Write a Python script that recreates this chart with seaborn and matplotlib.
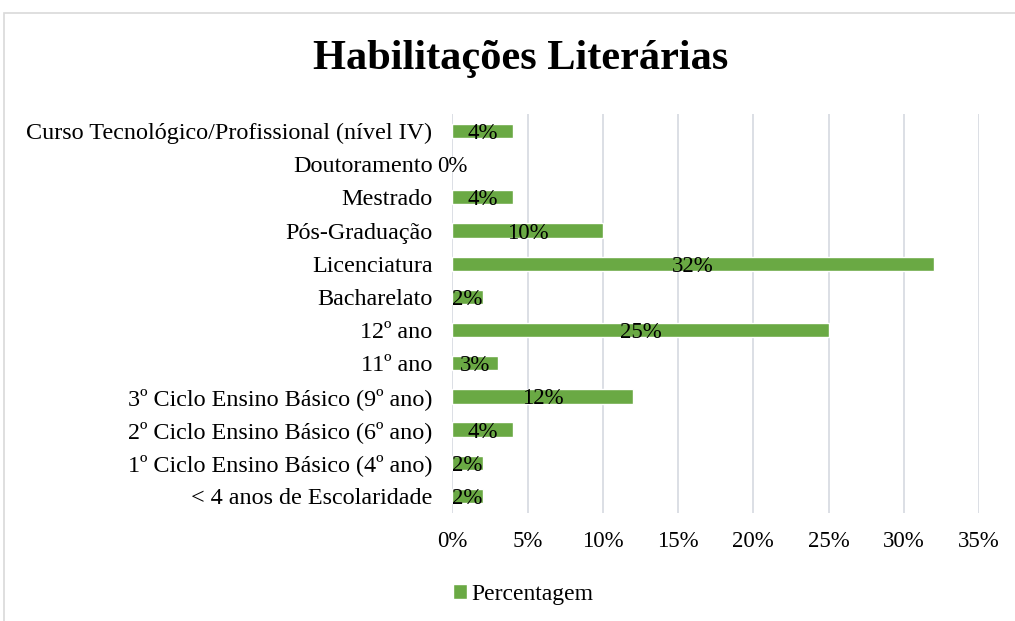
import matplotlib
matplotlib.use("Agg")
import matplotlib.pyplot as plt
import seaborn as sns
import pandas as pd
from matplotlib.patches import Patch, Rectangle

# dados
categorias = [
    "Curso Tecnológico/Profissional (nível IV)",
    "Doutoramento",
    "Mestrado",
    "Pós-Graduação",
    "Licenciatura",
    "Bacharelato",
    "12º ano",
    "11º ano",
    "3º Ciclo Ensino Básico (9º ano)",
    "2º Ciclo Ensino Básico (6º ano)",
    "1º Ciclo Ensino Básico (4º ano)",
    "< 4 anos de Escolaridade",
]
percentagem = [4, 0, 4, 10, 32, 2, 25, 3, 12, 4, 2, 2]
ticks_x = [0, 5, 10, 15, 20, 25, 30, 35]

df = pd.DataFrame({"Categoria": categorias, "Percentagem": percentagem})

sns.set_style("white")
plt.rcParams["font.family"] = ["Liberation Serif", "DejaVu Serif"]
plt.rcParams["text.color"] = "black"
plt.rcParams["xtick.color"] = "black"
plt.rcParams["ytick.color"] = "black"

verde = "#6aa944"
fig = plt.figure(figsize=(10.15, 6.21), dpi=100)
ax = fig.add_axes([0.4458, 0.1746, 0.5187, 0.6412])

sns.barplot(data=df, x="Percentagem", y="Categoria", order=categorias,
            color=verde, width=0.43, saturation=1, ax=ax)

# rotulos de dados no centro da barra (um pouco abaixo, como no Excel)
for p, v in zip(ax.patches, percentagem):
    ax.text(p.get_x() + p.get_width() / 2, p.get_y() + p.get_height() / 2,
            f"{v}%", ha="center", va="center_baseline", fontsize=16.5)

ax.set_xlim(0, 35)
ax.set_xticks(ticks_x)
ax.set_xticklabels([f"{t}%" for t in ticks_x])
ax.grid(axis="x", color="#d9dce3", linewidth=1.3)
ax.set_axisbelow(True)
ax.tick_params(axis="both", length=0)
ax.tick_params(axis="x", pad=13, labelsize=16.5)
ax.tick_params(axis="y", pad=14.4, labelsize=17.4)
ax.set_xlabel("")
ax.set_ylabel("")
for s in ax.spines.values():
    s.set_visible(False)

fig.text(0.513, 0.905, "Habilitações Literárias", ha="center", va="center",
         fontsize=30.5, fontweight="bold")

fig.legend(handles=[Patch(facecolor=verde, label="Percentagem")],
           loc="center left", bbox_to_anchor=(0.425, 0.043), frameon=False,
           fontsize=17, handlelength=0.6, handleheight=0.6, handletextpad=0.2)

# moldura da area do grafico
fig.patches.append(Rectangle((4 / 1015, -0.1), 1.1, 1 - 13 / 621 + 0.1,
                             transform=fig.transFigure, fill=False,
                             edgecolor="#d9d9d9", linewidth=1.2))

fig.savefig("out.png", dpi=100)
